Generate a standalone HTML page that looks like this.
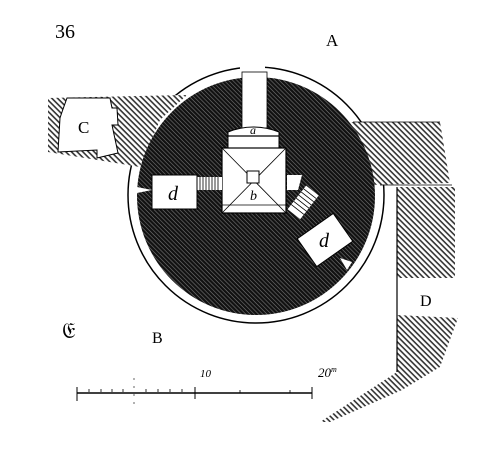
<!DOCTYPE html>
<html><head><meta charset="utf-8"><style>html,body{margin:0;padding:0;background:#fff}svg{display:block}</style></head>
<body>
<svg width="500" height="455" viewBox="0 0 500 455" xmlns="http://www.w3.org/2000/svg">
<defs>
<pattern id="h" width="4" height="4" patternUnits="userSpaceOnUse" patternTransform="rotate(45)">
<rect width="4" height="4" fill="#fff"/><rect width="4" height="1.6" fill="#333"/></pattern>
<pattern id="d" width="3" height="3" patternUnits="userSpaceOnUse" patternTransform="rotate(45)">
<rect width="3" height="3" fill="#111"/><rect width="3" height="0.6" fill="#777"/></pattern>
</defs>
<!-- tower ring -->
<circle cx="256" cy="195" r="128" fill="#fff" stroke="#000" stroke-width="1.5"/>
<rect x="240" y="62" width="25" height="12" fill="#fff"/>
<!-- walls -->
<polygon points="48,98 187,95 160,120 140,167 48,152" fill="url(#h)"/>
<polygon points="67,98 110,98 112,108 117,108 118,125 112,125 118,153 97,158 97,150 58,152 60,118 62,112" fill="#fff" stroke="#000" stroke-width="1"/>
<polygon points="345,122 440,122 450,183 365,185" fill="url(#h)"/>
<polygon points="397,187 455,187 455,278 397,278" fill="url(#h)"/>
<polygon points="397,315 458,318 440,367 402,390 330,422 320,422 397,372" fill="url(#h)"/>
<line x1="397" y1="187" x2="397" y2="372" stroke="#000" stroke-width="1.2"/>
<line x1="353" y1="122" x2="440" y2="122" stroke="#000" stroke-width="0.8"/>
<line x1="380" y1="185" x2="452" y2="185" stroke="#000" stroke-width="0.8"/>
<circle cx="256" cy="196" r="119" fill="url(#d)"/>
<rect x="242" y="72" width="25" height="56" fill="#fff" stroke="#000" stroke-width="0.8"/>
<path d="M228,132 Q253,122 279,132 L279,150 L228,150 Z" fill="#fff" stroke="#000" stroke-width="1"/>
<line x1="228" y1="136" x2="279" y2="136" stroke="#000" stroke-width="1.2"/>
<text x="250" y="134" font-family="Liberation Serif" font-style="italic" font-size="12">a</text>
<g>
<rect x="222" y="148" width="64" height="65" fill="#fff" stroke="#000" stroke-width="1.2"/>
<line x1="222" y1="148" x2="286" y2="213" stroke="#000" stroke-width="0.8"/>
<line x1="286" y1="148" x2="222" y2="213" stroke="#000" stroke-width="0.8"/>
<line x1="222" y1="205" x2="286" y2="205" stroke="#000" stroke-width="0.8"/>
<rect x="247" y="171" width="12" height="12" fill="#fff" stroke="#000" stroke-width="1"/>
<text x="250" y="200" font-family="Liberation Serif" font-style="italic" font-size="14">b</text>
</g>
<g>
<rect x="197" y="177" width="25" height="13" fill="#fff"/>
<path d="M200,177v13M203,177v13M206,177v13M209,177v13M212,177v13M215,177v13M218,177v13" stroke="#000" stroke-width="0.8"/>
</g>
<rect x="152" y="175" width="45" height="34" fill="#fff" stroke="#000" stroke-width="1"/>
<text x="168" y="200" font-family="Liberation Serif" font-style="italic" font-size="20">d</text>
<polygon points="137,187 152,190 137,193" fill="#fff"/>
<g transform="translate(305,200) rotate(38)">
<rect x="-8" y="-12" width="16" height="30" fill="#fff"/>
<path d="M-8,-8h16M-8,-4h16M-8,0h16M-8,4h16M-8,8h16M-8,12h16" stroke="#000" stroke-width="0.8"/>
</g>
<polygon points="287,175 302,175 298,190 287,190" fill="#fff"/>
<g transform="translate(325,240) rotate(-35)">
<rect x="-22" y="-17" width="44" height="34" fill="#fff" stroke="#000" stroke-width="1"/>
<text x="-6" y="7" transform="rotate(35)" font-family="Liberation Serif" font-style="italic" font-size="20">d</text>
</g>
<polygon points="340,258 352,262 347,270" fill="#fff"/>
<!-- labels -->
<text x="55" y="38" font-family="Liberation Serif" font-size="20">36</text>
<text x="326" y="46" font-family="Liberation Serif" font-size="17">A</text>
<text x="152" y="343" font-family="Liberation Serif" font-size="16">B</text>
<text x="78" y="133" font-family="Liberation Serif" font-size="17">C</text>
<text x="420" y="306" font-family="Liberation Serif" font-size="16">D</text>
<text x="62" y="338" font-family="Liberation Serif" font-size="22">𝔈</text>
<!-- scale bar -->
<g stroke="#000">
<line x1="77" y1="393" x2="312" y2="393" stroke-width="1.5"/>
<line x1="77" y1="387" x2="77" y2="401" stroke-width="1"/>
<line x1="195" y1="387" x2="195" y2="399" stroke-width="1"/>
<line x1="312" y1="387" x2="312" y2="399" stroke-width="1"/>
<line x1="134" y1="378" x2="134" y2="410" stroke-width="0.6" stroke-dasharray="2,6"/>
<path d="M89,389v3M101,389v3M112,389v3M123,389v3M146,389v3M158,389v3M170,389v3M182,389v3M240,390v3M290,390v3" stroke-width="0.8"/>
</g>
<text x="200" y="377" font-family="Liberation Serif" font-style="italic" font-size="11">10</text>
<text x="318" y="377" font-family="Liberation Serif" font-style="italic" font-size="13">20<tspan font-size="8" dy="-5">m</tspan></text>
</svg>
</body></html>
